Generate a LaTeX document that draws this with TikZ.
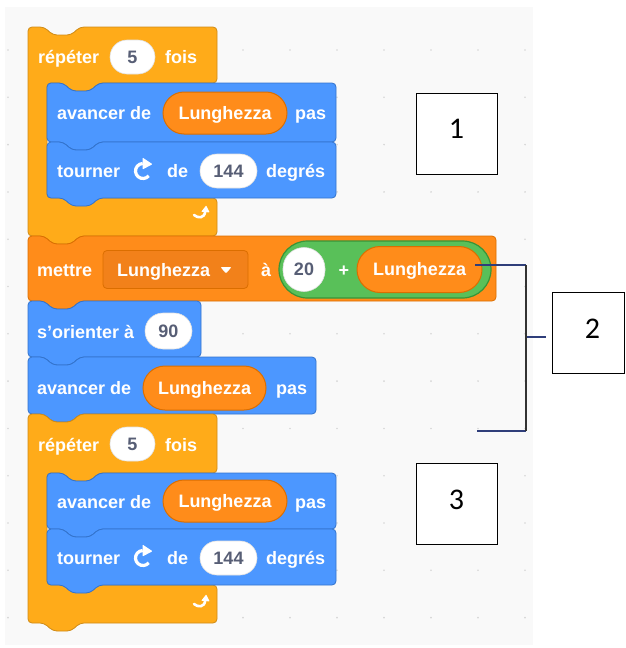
\documentclass[tikz,border=0pt]{standalone}
\usepackage{fontspec}
\setsansfont{Liberation Sans}
\newfontfamily\calib{Carlito}
\usetikzlibrary{arrows.meta}
\definecolor{ctrl}{HTML}{FFAB19}
\definecolor{ctrlb}{HTML}{CF8B17}
\definecolor{mot}{HTML}{4C97FF}
\definecolor{motb}{HTML}{3373CC}
\definecolor{varo}{HTML}{FF8C1A}
\definecolor{varb}{HTML}{DB6E00}
\definecolor{ddf}{HTML}{F2811A}
\definecolor{opg}{HTML}{59C059}
\definecolor{opgb}{HTML}{389438}
\definecolor{bgc}{HTML}{F9F9F9}
\definecolor{dotc}{HTML}{D6D6D6}
\definecolor{intxt}{HTML}{575E75}
\definecolor{navy}{HTML}{2F3E7A}
% stack block: fill, border, x0, y0, x1, y1
\newcommand\stackblk[6]{%
\filldraw[fill=#1, draw=#2, line width=0.8pt, rounded corners=4pt]
 (#3,{(#4+#6)/2}) -- (#3,#4) -- ({#3+16},#4) -- ({#3+25},{#4+8}) -- ({#3+43},{#4+8}) -- ({#3+52},#4) -- (#5,#4) -- (#5,#6) -- ({#3+52},#6) -- ({#3+43},{#6+8}) -- ({#3+25},{#6+8}) -- ({#3+16},#6) -- (#3,#6) -- cycle;}
% C block: x0 y0 x1 ya xi yb yc
\newcommand\cblk[7]{%
\filldraw[fill=ctrl, draw=ctrlb, line width=0.8pt, rounded corners=4pt]
 (#1,{(#2+#7)/2}) -- (#1,#2) -- ({#1+16},#2) -- ({#1+25},{#2+8}) -- ({#1+43},{#2+8}) -- ({#1+52},#2) -- (#3,#2) -- (#3,#4)
 -- ({#5+52},#4) -- ({#5+43},{#4+8}) -- ({#5+25},{#4+8}) -- ({#5+16},#4) -- (#5,#4) -- (#5,#6) -- (#3,#6) -- (#3,#7)
 -- ({#1+52},#7) -- ({#1+43},{#7+8}) -- ({#1+25},{#7+8}) -- ({#1+16},#7) -- (#1,#7) -- cycle;}
\newcommand\rotico[2]{%
\begin{scope}[shift={(#1,#2)},yscale=-1]
\draw[white, line width=3.2pt] (-40:7.5) arc[start angle=-40, end angle=-268, radius=7.5];
\fill[white, rounded corners=0.8pt] (-0.5,13.5) -- (-0.5,1.5) -- (9.5,6.8) -- cycle;
\end{scope}}
\newcommand\repico[2]{%
\begin{scope}[shift={(#1,#2)},yscale=-1]
\draw[white, line width=2.6pt, line cap=round] (-8,-1) .. controls (-4,-4.5) and (2.5,-4.5) .. (3.2,2.5);
\fill[white, rounded corners=0.6pt] (-0.8,2.2) -- (7.6,1.6) -- (4.2,8.6) -- cycle;
\end{scope}}
\begin{document}
\begin{tikzpicture}[x=1pt,y=-1pt,
  lbl/.style={text=white, font=\sffamily\bfseries\fontsize{18}{21}\selectfont, inner sep=0pt, anchor=west, text height=12.5pt, text depth=0pt},
  wov/.style={fill=white, draw=black!12, line width=0.6pt, rounded corners=17pt, minimum height=34pt, inner sep=0pt, text=intxt, font=\sffamily\bfseries\fontsize{18}{21}\selectfont, text height=12.5pt, text depth=0pt},
  rep/.style={fill=varo, draw=varb, line width=1pt, rounded corners=21pt, minimum height=42pt, inner sep=0pt, text=white, font=\sffamily\bfseries\fontsize{18}{21}\selectfont, text height=12.5pt, text depth=0pt},
  lbox/.style={draw=black, line width=1pt, fill=white, minimum width=81pt, minimum height=81pt, inner sep=0pt},
  lnum/.style={font=\calib\fontsize{30}{36}\selectfont, inner sep=0pt, text height=19pt, text depth=0pt}
]
\useasboundingbox (0,0) rectangle (625,648);
\fill[white] (0,0) rectangle (625,648);
\fill[bgc] (5,7) rectangle (533,645);
\foreach \i in {0,...,11} \foreach \j in {0,...,12} \fill[dotc] ({8+47*\i},{50+47.3*\j}) circle (0.9);

% ---- repeat 1
\cblk{28}{27}{217}{83}{47}{198}{236}
\stackblk{mot}{motb}{47}{83}{336}{142}
\stackblk{mot}{motb}{47}{142}{336}{198}
% ---- set block
\stackblk{varo}{varb}{28}{236}{496}{301}
\stackblk{mot}{motb}{28}{301}{201}{357}
\stackblk{mot}{motb}{28}{357}{316}{414}
% ---- repeat 2
\cblk{28}{414}{217}{473}{47}{585}{623}
\stackblk{mot}{motb}{47}{473}{336}{529}
\stackblk{mot}{motb}{47}{529}{336}{585}

% texts repeat 1
\node[lbl] (r1a) at (38,57) {répéter};
\node[wov, minimum width=45pt] (r1n) at (132.5,57) {5};
\node[lbl] (r1b) at (165,57) {fois};
\node[lbl] (a1a) at (57,113) {avancer de};
\node[rep, minimum width=124pt] (a1v) at (225,113) {Lunghezza};
\node[lbl] (a1b) at (295,113) {pas};
\node[lbl] (b1a) at (57,171) {tourner};
\rotico{143}{171}
\node[lbl] (b1b) at (167,171) {de};
\node[wov, minimum width=57pt] (b1n) at (228.5,171) {144};
\node[lbl] (b1c) at (266,171) {degrés};
\repico{202}{214}

% set block
\node[lbl] (m1) at (37,270) {mettre};
\node[fill=ddf, draw=varb, line width=0.8pt, rounded corners=4pt, minimum width=145pt, minimum height=38pt] (mdd) at (175.5,269.5) {};
\node[lbl] (mddt) at (117,270) {Lunghezza};
\fill[white, rounded corners=1pt] (220.5,267) -- (231.5,267) -- (226,273.5) -- cycle;
\node[lbl] (m2) at (261,270) {à};
\node[fill=opg, draw=opgb, line width=1.2pt, rounded corners=28.5pt, minimum width=212pt, minimum height=57pt] (mg) at (385,269.5) {};
\node[wov, minimum width=42pt, minimum height=44pt, rounded corners=21pt] (mn) at (304,269.5) {20};
\node[lbl, anchor=center] (mplus) at (344,270) {+};
\node[rep, minimum width=125pt, minimum height=46pt, rounded corners=23pt] (mv) at (419.5,269.5) {Lunghezza};

% s'orienter
\node[lbl] (s1) at (37,332) {s'orienter à};
\node[wov, minimum width=47pt, minimum height=36pt, rounded corners=18pt] (sn) at (168.5,331) {90};
% avancer
\node[lbl] (v1) at (37,388) {avancer de};
\node[rep, minimum width=123pt, minimum height=44pt, rounded corners=22pt] (vv) at (204.5,388) {Lunghezza};
\node[lbl] (v2) at (276,388) {pas};

% repeat 2
\node[lbl] (r2a) at (38,445) {répéter};
\node[wov, minimum width=45pt] (r2n) at (132.5,444) {5};
\node[lbl] (r2b) at (165,445) {fois};
\node[lbl] (a2a) at (57,502) {avancer de};
\node[rep, minimum width=124pt] (a2v) at (225,501) {Lunghezza};
\node[lbl] (a2b) at (295,502) {pas};
\node[lbl] (b2a) at (57,558) {tourner};
\rotico{143}{558}
\node[lbl] (b2b) at (167,558) {de};
\node[wov, minimum width=57pt] (b2n) at (228.5,558) {144};
\node[lbl] (b2c) at (266,558) {degrés};
\repico{202}{603}

% label boxes
\node[lbox] (box1) at (456.5,133.5) {};
\node[lnum] (n1) at (456.5,129) {1};
\node[draw=black, line width=1pt, fill=white, minimum width=72pt, minimum height=81pt, inner sep=0pt] (box2) at (588,332.5) {};
\node[lnum] (n2) at (592.5,329) {2};
\node[lbox] (box3) at (456.5,503.5) {};
\node[lnum] (n3) at (456.5,500) {3};

% bracket connector
\coordinate (c2a) at (475,265);
\coordinate (c2b) at (526,265);
\coordinate (c2c) at (526,431);
\coordinate (c2d) at (477,431);
\coordinate (c2m) at (527,337);
\coordinate (c2e) at (546,337);
\draw[navy, line width=1.1pt] (c2a) -- (c2b);
\draw[navy, line width=1.1pt] (c2d) -- (c2c);
\draw[black!80, line width=1.1pt] (c2b) -- (c2c);
\draw[navy, line width=1.1pt] (c2m) -- (c2e);
\end{tikzpicture}
\end{document}
